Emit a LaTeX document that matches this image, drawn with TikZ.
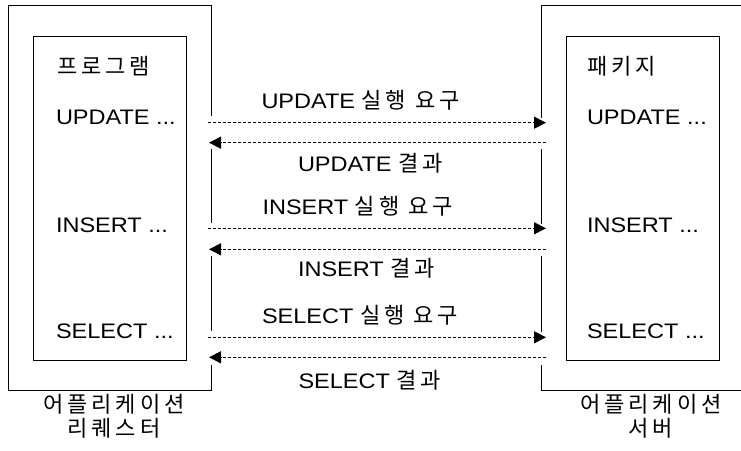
\documentclass[tikz,border=0pt]{standalone}
\usepackage{fontspec}
\setmainfont{Liberation Sans}[FakeStretch=1.12]
\newfontfamily\kr{Noto Sans CJK KR}[Scale=1.05, LetterSpace=18]
\usetikzlibrary{arrows.meta}

\begin{document}
\begin{tikzpicture}[x=1pt,y=-1pt,
  every node/.style={inner sep=0pt, outer sep=0pt, font=\fontsize{21}{24}\selectfont},
  frame/.style={line width=1pt, line cap=rect},
  inbox/.style={draw, line width=1pt, minimum width=153pt, minimum height=324pt, anchor=north west},
  outbox/.style={anchor=north west},
  txt/.style={anchor=base west},
  msg/.style={line width=0.9pt, dash pattern=on 3pt off 2pt,
    -{Triangle[length=12pt,width=12pt]}},
  caption/.style={align=center, font=\kr\fontsize{21}{23.5}\selectfont}
]
\useasboundingbox (0,0) rectangle (741,450);

% outer frames (requester on the left, server on the right)
\node[outbox, minimum width=203.7pt, minimum height=385pt] (req) at (8,5) {};
\node[outbox, minimum width=200pt, minimum height=385pt] (srv) at (541.5,5) {};

% inner program / package boxes
\node[inbox] (prog) at (33,36) {};
\node[inbox] (pkg) at (566,36) {};

% texts inside the program box
\node[txt] (ptitle) at (57,74) {\kr 프로그램};
\node[txt] (pupd) at (56,124) {UPDATE ...};
\node[txt] (pins) at (56,232) {INSERT ...};
\node[txt] (psel) at (56,338) {SELECT ...};

% texts inside the package box
\node[txt] (ktitle) at (587,74) {\kr 패키지};
\node[txt] (kupd) at (587,124) {UPDATE ...};
\node[txt] (kins) at (587,232) {INSERT ...};
\node[txt] (ksel) at (587,338) {SELECT ...};

% message end points
\coordinate (u1) at (208,122.7);   \coordinate (u2) at (546,122.7);
\coordinate (u3) at (546,142.7);   \coordinate (u4) at (209,142.7);
\coordinate (i1) at (208,228.3);   \coordinate (i2) at (546,228.3);
\coordinate (i3) at (546,249.3);   \coordinate (i4) at (209,249.3);
\coordinate (s1) at (208,337.3);   \coordinate (s2) at (546,337.3);
\coordinate (s3) at (546,357.3);   \coordinate (s4) at (209,357.3);

% requester frame, open where the messages pass
\draw[frame] (req.east |- 0,115) -- (req.north east) -- (req.north west)
  -- (req.south west) -- (req.south east) -- (req.east |- 0,365);
\draw[frame] (req.east |- 0,149) -- (req.east |- 0,222);
\draw[frame] (req.east |- 0,256) -- (req.east |- 0,330);

% server frame, open where the messages pass
\draw[frame] (srv.west |- 0,117) -- (srv.north west) -- (srv.north east);
\draw[frame] (srv.south east) -- (srv.south west) -- (srv.west |- 0,365);
\draw[frame] (srv.west |- 0,149) -- (srv.west |- 0,223);
\draw[frame] (srv.west |- 0,256) -- (srv.west |- 0,331);

% messages
\draw[msg] (u1) -- (u2);
\draw[msg] (u3) -- (u4);
\draw[msg] (i1) -- (i2);
\draw[msg] (i3) -- (i4);
\draw[msg] (s1) -- (s2);
\draw[msg] (s3) -- (s4);

% message labels
\node[txt] (lu1) at (261.5,108) {UPDATE {\kr 실행 요구}};
\node[txt] (lu2) at (298,171) {UPDATE {\kr 결과}};
\node[txt] (li1) at (262.5,214) {INSERT {\kr 실행 요구}};
\node[txt] (li2) at (298,276) {INSERT {\kr 결과}};
\node[txt] (ls1) at (262,323) {SELECT {\kr 실행 요구}};
\node[txt] (ls2) at (298.5,388) {SELECT {\kr 결과}};

% captions under the frames
\node[caption] (creq) at (114,416) {어플리케이션\\리퀘스터};
\node[caption] (csrv) at (651,416) {어플리케이션\\서버};
\end{tikzpicture}
\end{document}
